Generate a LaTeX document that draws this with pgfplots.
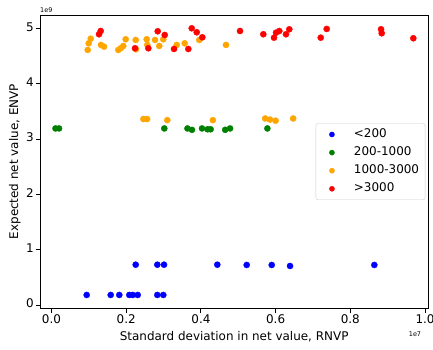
\documentclass[border=0pt]{standalone}
\usepackage{fontspec}
\setmainfont{DejaVu Sans}
\usepackage{pgfplots}
\pgfplotsset{compat=1.18}
\definecolor{cblue}{RGB}{0,0,255}
\definecolor{cgreen}{RGB}{0,128,0}
\definecolor{corange}{RGB}{255,165,0}
\definecolor{cred}{RGB}{255,0,0}
\begin{document}
\begin{tikzpicture}
\begin{axis}[
  name=ax,
  scale only axis,
  width=388.3bp, height=293.3bp,
  xmin=-0.0308, xmax=1.0088,
  ymin=-0.06, ymax=5.24,
  axis line style={black, line width=0.9bp},
  tick style={black, line width=0.9bp},
  tick align=outside,
  major tick length=4.2bp,
  xtick pos=left, ytick pos=left,
  xtick={0,0.2,0.4,0.6,0.8,1.0},
  ytick={0,1,2,3,4,5},
  /pgf/number format/assume math mode=true,
  xticklabel={\pgfmathprintnumber[fixed,fixed zerofill,precision=1]{\tick}},
  yticklabel={\pgfmathprintnumber[fixed,precision=0]{\tick}},
  ticklabel style={font=\fontsize{12}{14}\selectfont, inner sep=0pt},
  xticklabel style={anchor=base, yshift=-11bp},
  yticklabel style={anchor=mid east, xshift=-1.8bp},
  xlabel={Standard deviation in net value, RNVP},
  ylabel={Expected net value, ENVP},
  label style={font=\fontsize{12}{14}\selectfont, inner sep=0pt},
  xlabel style={at={(axis description cs:0.5,0)}, anchor=base, yshift=-32.4bp},
  ylabel style={at={(axis description cs:-0.0564,0.5)}, anchor=base},
  legend cell align=left,
  legend image code/.code={\path[draw=none,fill=none] (0bp,-3bp) rectangle (22bp,3bp); \draw[mark repeat=2,mark phase=2,#1,mark size=2.6bp] plot coordinates {(0bp,0bp) (11bp,0bp) (22bp,0bp)};},
  legend style={at={(axis description cs:1,0.5)}, anchor=east, xshift=-3bp,
    draw=black!20, rounded corners=2bp, fill=white,
    font=\fontsize{12}{14}\selectfont,
    inner xsep=5bp, inner ysep=4.3bp, row sep=4.8bp, column sep=10bp,
    nodes={inner sep=1bp, text height=8.8bp, text depth=2.5bp}},
  every axis plot/.append style={only marks, mark=*, mark size=3.1bp, mark options={line width=0.3bp}},
]
\addplot[color=cblue] coordinates {
(0.0942,0.181) (0.1585,0.181) (0.1815,0.181) (0.2083,0.181) (0.2174,0.181) (0.2308,0.181) (0.2833,0.181) (0.2993,0.181)
(0.2254,0.728) (0.2833,0.728) (0.3012,0.728) (0.4439,0.728) (0.5226,0.723) (0.5896,0.723) (0.6386,0.705) (0.8643,0.723)
};
\addlegendentry{<200}
\addplot[color=cgreen] coordinates {
(0.0107,3.19) (0.0201,3.19) (0.302,3.19) (0.364,3.19) (0.376,3.165) (0.403,3.19) (0.418,3.175) (0.426,3.175) (0.465,3.165) (0.478,3.19) (0.578,3.19)
};
\addlegendentry{200-1000}
\addplot[color=corange] coordinates {
(0.246,3.36) (0.256,3.36) (0.310,3.34) (0.432,3.34) (0.572,3.37) (0.585,3.35) (0.600,3.33) (0.647,3.37)
(0.0969,4.608) (0.0996,4.729) (0.1050,4.812) (0.1325,4.699) (0.1406,4.668) (0.1788,4.608) (0.1853,4.639) (0.1922,4.680)
(0.1987,4.801) (0.2254,4.789) (0.2262,4.621) (0.2549,4.801) (0.2565,4.699) (0.2771,4.789) (0.2886,4.680) (0.2993,4.801)
(0.3352,4.699) (0.3566,4.729) (0.3957,4.789) (0.4672,4.699)
};
\addlegendentry{1000-3000}
\addplot[color=cred] coordinates {
(0.1272,4.892) (0.1317,4.951) (0.2236,4.639) (0.2592,4.639) (0.2843,4.946) (0.3031,4.879) (0.3280,4.626) (0.3663,4.626)
(0.3754,5.000) (0.3888,4.928) (0.4038,4.837) (0.5047,4.951) (0.5671,4.892) (0.5957,4.830) (0.6011,4.921) (0.6099,4.951)
(0.6278,4.892) (0.6367,4.982) (0.7208,4.830) (0.7368,4.988) (0.8822,4.982) (0.8841,4.910) (0.9687,4.820)
};
\addlegendentry{>3000}
\end{axis}
\node[anchor=base west, inner sep=0pt, font=\fontsize{6.5}{8}\selectfont] at ([yshift=2.7bp]ax.north west) {1e9};
\node[anchor=base east, inner sep=0pt, font=\fontsize{6.5}{8}\selectfont] at ([shift={(-7bp,-27.7bp)}]ax.south east) {1e7};
\pgfresetboundingbox
\useasboundingbox ([shift={(-40bp,-41.7bp)}]ax.south west) rectangle ([shift={(4.7bp,15bp)}]ax.north east);
\end{tikzpicture}
\end{document}
